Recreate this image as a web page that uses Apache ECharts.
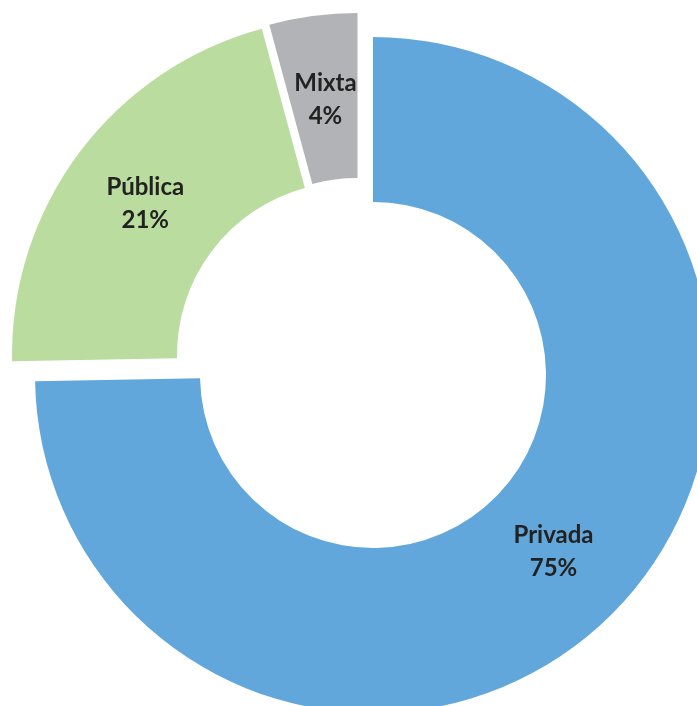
<!DOCTYPE html>
<html>
<head>
<meta charset="utf-8">
<script src="https://cdn.jsdelivr.net/npm/echarts@6/dist/echarts.min.js"></script>
<style>
html,body{margin:0;padding:0;background:#fff;}
#chart{width:697px;height:706px;}
</style>
</head>
<body>
<div id="chart"></div>
<script>
// data
const categories = ['Privada', 'Pública', 'Mixta'];
const values = [74.7, 21.1, 4.2];
const colors = ['#62A7DB', '#BADC9F', '#B1B3B6'];

// layout: each exploded slice has its own centre (Excel-style per-point explosion)
const sliceCenters = [[373, 375], [350, 355], [357.5, 351]];
const radii = [173, 338];
const labelNudges = [[-4, -4], [2, 4], [2, 5]];

const chart = echarts.init(document.getElementById('chart'), null, {renderer: 'canvas'});
const series = categories.map((cat, k) => ({
  type: 'pie',
  center: sliceCenters[k],
  radius: radii,
  startAngle: 90,
  clockwise: true,
  avoidLabelOverlap: false,
  silent: true,
  emphasis: {disabled: true},
  labelLine: {show: false},
  data: categories.map((c, i) => ({
    name: c,
    value: values[i],
    itemStyle: {color: i === k ? colors[i] : 'rgba(0,0,0,0)'},
    label: {
      show: i === k,
      position: 'inside',
      offset: labelNudges[k],
      fontFamily: 'Lato',
      fontWeight: 'bold',
      fontSize: 24,
      lineHeight: 33,
      color: '#222222',
      formatter: p => p.name + '\n' + Math.round(p.percent) + '%'
    }
  }))
}));

chart.setOption({animation: false, series: series});
</script>
</body>
</html>
